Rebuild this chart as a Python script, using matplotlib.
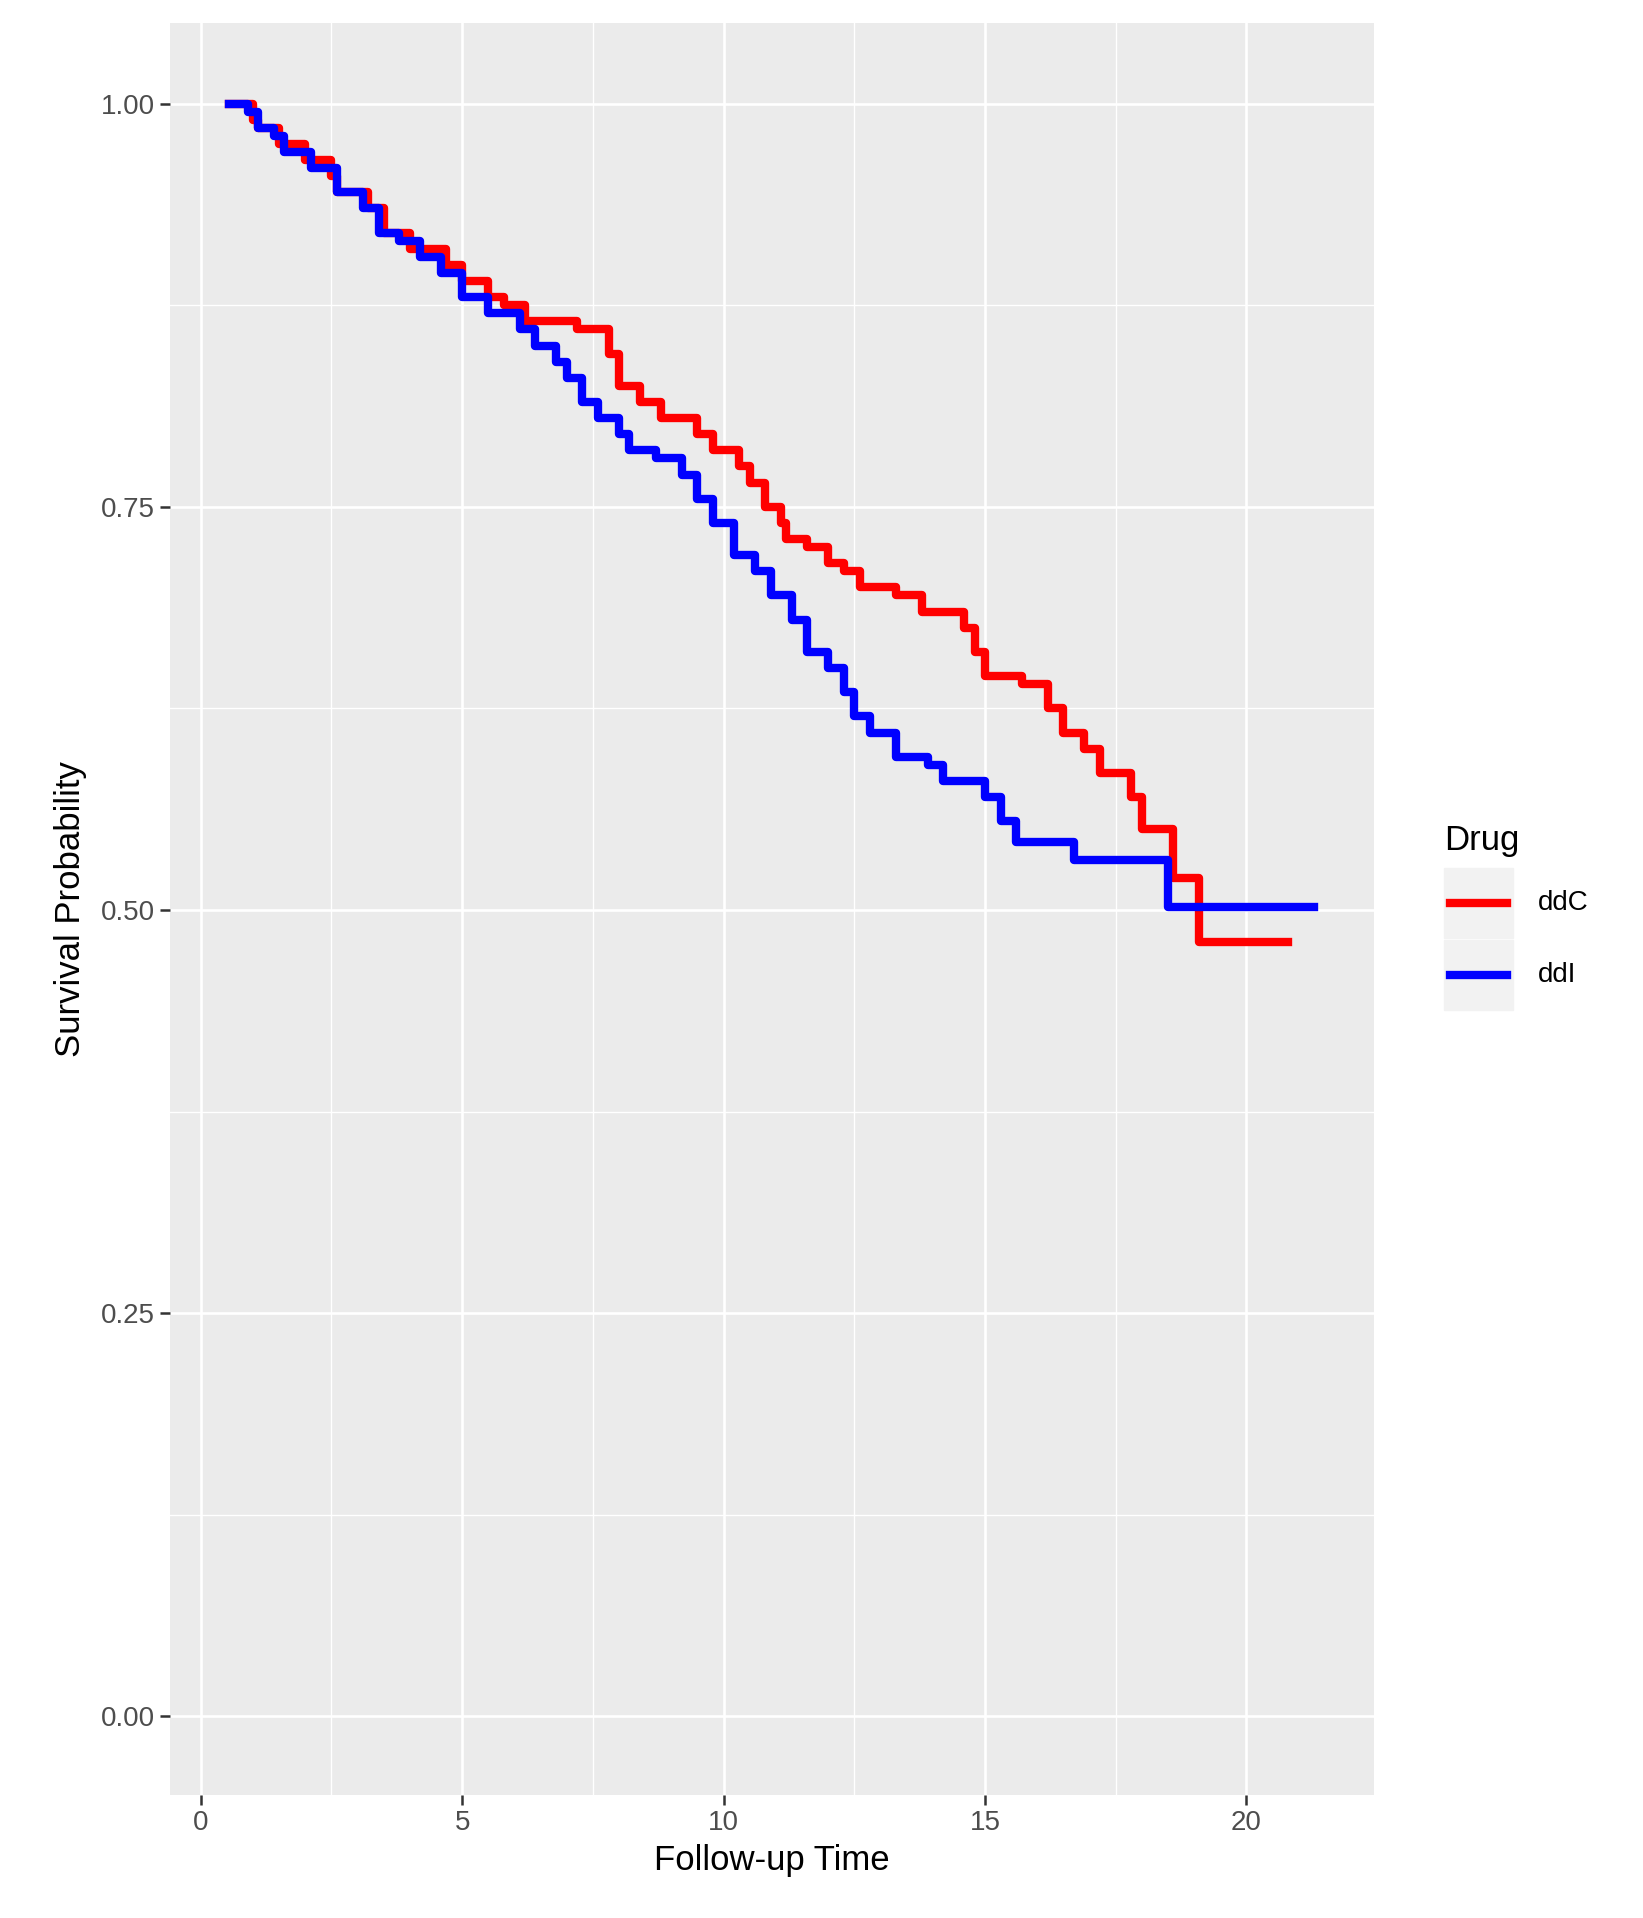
import matplotlib
matplotlib.use("Agg")
from matplotlib import pyplot as plt
from matplotlib.patches import Rectangle
from matplotlib.lines import Line2D

plt.rcParams['font.family'] = ['Liberation Sans', 'DejaVu Sans']

# Kaplan-Meier step estimates
ddc_time = [0.55, 1.0, 1.1, 1.5, 2.0, 2.5, 2.6, 3.2, 3.5, 4.0, 4.7, 5.0, 5.5, 5.8, 6.2,
            7.2, 7.8, 8.0, 8.4, 8.8, 9.5, 9.8, 10.3, 10.5, 10.8, 11.1, 11.2, 11.6, 12.0,
            12.3, 12.6, 13.3, 13.8, 14.6, 14.8, 15.0, 15.7, 16.2, 16.5, 16.9, 17.2, 17.8,
            18.0, 18.6, 19.1, 20.8]
ddc_surv = [1.0, 0.99, 0.985, 0.975, 0.965, 0.955, 0.945, 0.935, 0.92, 0.91, 0.90, 0.89,
            0.88, 0.875, 0.865, 0.86, 0.845, 0.825, 0.815, 0.805, 0.795, 0.785, 0.775,
            0.765, 0.75, 0.74, 0.73, 0.725, 0.715, 0.71, 0.70, 0.695, 0.685, 0.675, 0.66,
            0.645, 0.64, 0.625, 0.61, 0.60, 0.585, 0.57, 0.55, 0.52, 0.48, 0.48]
ddi_time = [0.55, 0.9, 1.1, 1.4, 1.6, 2.1, 2.6, 3.1, 3.4, 3.8, 4.2, 4.6, 5.0, 5.5, 6.1,
            6.4, 6.8, 7.0, 7.3, 7.6, 8.0, 8.2, 8.7, 9.2, 9.5, 9.8, 10.2, 10.6, 10.9, 11.3,
            11.6, 12.0, 12.3, 12.5, 12.8, 13.3, 13.9, 14.2, 15.0, 15.3, 15.6, 16.7, 18.5,
            21.3]
ddi_surv = [1.0, 0.995, 0.985, 0.98, 0.97, 0.96, 0.945, 0.935, 0.92, 0.915, 0.905, 0.895,
            0.88, 0.87, 0.86, 0.85, 0.84, 0.83, 0.815, 0.805, 0.795, 0.785, 0.78, 0.77,
            0.755, 0.74, 0.72, 0.71, 0.695, 0.68, 0.66, 0.65, 0.635, 0.62, 0.61, 0.595,
            0.59, 0.58, 0.57, 0.555, 0.542, 0.531, 0.502, 0.502]

fig = plt.figure(figsize=(16.43, 19.18), dpi=100)
ax = fig.add_axes([0.1034, 0.064, 0.7326, 0.924])
ax.set_facecolor('#EBEBEB')
for s in ax.spines.values():
    s.set_visible(False)

for x in [2.5, 7.5, 12.5, 17.5]:
    ax.axvline(x, color='white', lw=1.0, zorder=0)
for y in [0.125, 0.375, 0.625, 0.875]:
    ax.axhline(y, color='white', lw=1.0, zorder=0)
for x in [0, 5, 10, 15, 20]:
    ax.axvline(x, color='white', lw=1.9, zorder=0)
for y in [0, 0.25, 0.5, 0.75, 1.0]:
    ax.axhline(y, color='white', lw=1.9, zorder=0)

ax.step(ddc_time, ddc_surv, where='post', color='#FF0000', lw=6)
ax.step(ddi_time, ddi_surv, where='post', color='#0000FF', lw=6)

ax.set_xlim(-0.59, 22.43)
ax.set_ylim(-0.049, 1.05)
ax.set_xticks([0, 5, 10, 15, 20])
ax.set_yticks([0, 0.25, 0.5, 0.75, 1.0])
ax.set_yticklabels(['0.00', '0.25', '0.50', '0.75', '1.00'])
ax.tick_params(colors='#333333', labelsize=20, length=7, width=1.8, labelcolor='#4D4D4D')
ax.set_xlabel('Follow-up Time', fontsize=25, labelpad=6)
ax.set_ylabel('Survival Probability', fontsize=25, labelpad=10)

# legend
fig.text(0.879, 0.562, 'Drug', fontsize=25, va='center', ha='left')
for i, (lab, col) in enumerate([('ddC', '#FF0000'), ('ddI', '#0000FF')]):
    yc = 0.529 - i * 0.0375
    fig.add_artist(Rectangle((0.8786, yc - 0.0183), 0.042, 0.0366,
                             transform=fig.transFigure, color='#F2F2F2'))
    fig.add_artist(Line2D([0.8825, 0.917], [yc, yc], transform=fig.transFigure,
                          color=col, lw=6))
    fig.text(0.936, yc, lab, fontsize=20, va='center', ha='left')

fig.savefig('out.png')
